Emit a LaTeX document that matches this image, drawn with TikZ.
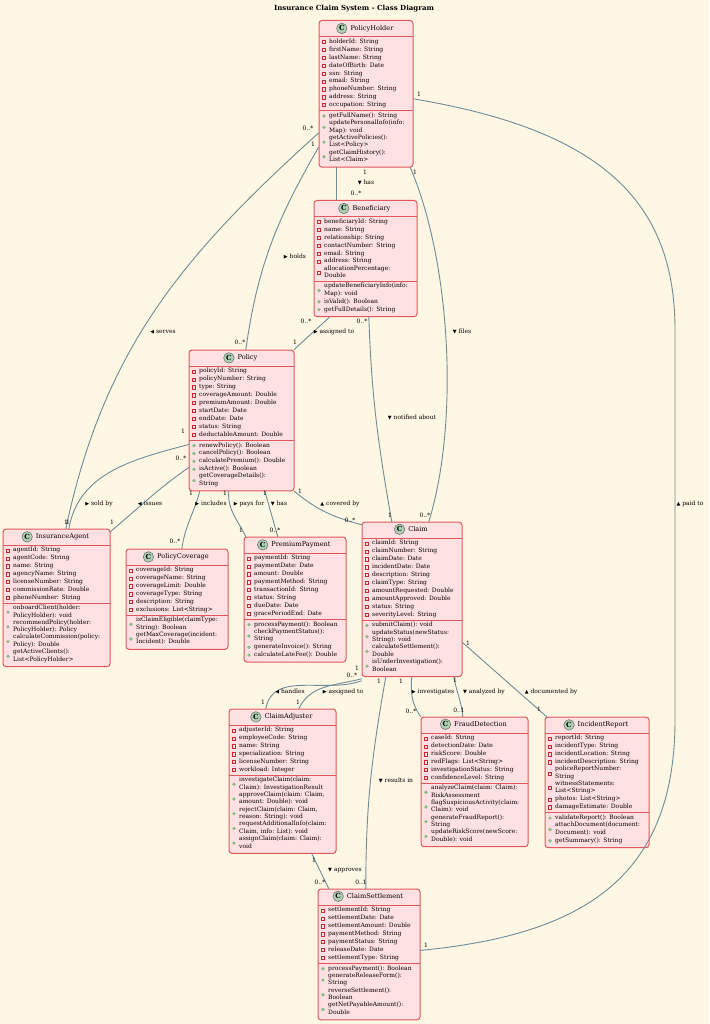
\documentclass[tikz,border=0pt]{standalone}
\usepackage{fontspec}
\setmainfont{DejaVu Serif}
\newfontfamily\symf{DejaVu Sans}
\usetikzlibrary{calc,fit,backgrounds,positioning}
\definecolor{bg}{HTML}{FEF7E4}
\definecolor{boxfill}{HTML}{FFE1E3}
\definecolor{boxline}{HTML}{E0585A}
\definecolor{iconfill}{HTML}{ADD1B2}
\definecolor{privc}{HTML}{C82930}
\definecolor{pubc}{HTML}{84BE84}
\definecolor{conn}{HTML}{6E8C98}
\newcommand\R{{\symf\fontsize{5}{5}\selectfont\char"25B6}}
\newcommand\Lf{{\symf\fontsize{5}{5}\selectfont\char"25C0}}
\newcommand\D{{\symf\fontsize{5}{5}\selectfont\char"25BC}}
\newcommand\U{{\symf\fontsize{5}{5}\selectfont\char"25B2}}
\tikzset{
  member/.style={inner sep=0pt,align=left,font=\fontsize{6}{7.5}\selectfont,
    execute at begin node=\strut, execute at end node=\strut},
  privm/.style={draw=privc,line width=0.5pt,fill=none,minimum size=3.2pt,inner sep=0pt},
  pubm/.style={circle,fill=pubc,minimum size=3.6pt,inner sep=0pt},
  ctitle/.style={inner sep=0pt,font=\fontsize{6.6}{8}\selectfont},
  cicon/.style={circle,draw=black!60,fill=iconfill,line width=0.5pt,minimum size=10.5pt,inner sep=0pt,font=\fontsize{7}{7}\selectfont\bfseries},
  boxst/.style={draw=boxline,fill=boxfill,line width=1pt,rounded corners=3pt},
  sep/.style={draw=boxline,line width=0.8pt},
  conn/.style={draw=conn,line width=0.9pt},
  lab/.style={inner sep=0.5pt,font=\fontsize{6}{7}\selectfont},
  mult/.style={inner sep=0.5pt,font=\fontsize{6}{7}\selectfont},
}
% id, x,y, width, title, attrs, methods
\newcommand\umlclass[6]{%
  \path (#2) coordinate (#1tl) ++(#3,0) coordinate (#1tr);
  \node[ctitle,anchor=north] (#1tt) at ($(#1tl)!0.5!(#1tr)+(6,4.5)$) {#4};
  \node[cicon,left=3pt of #1tt] (#1ic) {C};
  \draw[sep] ($(#1tl)+(0,16)$) -- ($(#1tr)+(0,16)$);
  \coordinate (#1c) at ($(#1tl)+(0,17.5)$);
  \foreach \m in {#5}{%
    \node[member,anchor=north west] (#1m) at ($(#1c)+(10,0)$) {\m};
    \node[privm] at ($(#1m.west)+(-5,0)$) {};
    \coordinate (#1c) at (#1m.south west -| #1tl);}
  \coordinate (#1d) at ($(#1c)+(0,1.5)$);
  \draw[sep] (#1d) -- (#1d -| #1tr);
  \coordinate (#1c) at ($(#1c)+(0,3)$);
  \foreach \m in {#6}{%
    \node[member,anchor=north west] (#1m) at ($(#1c)+(10,0)$) {\m};
    \node[pubm] at ($(#1m.west)+(-5,0)$) {};
    \coordinate (#1c) at (#1m.south west -| #1tl);}
  \coordinate (#1br) at ($(#1c -| #1tr)+(0,3)$);
  \begin{pgfonlayer}{background}
    \draw[boxst] (#1tl) rectangle (#1br);
  \end{pgfonlayer}
  \node[fit=(#1tl)(#1br),inner sep=0pt] (#1) {};
}
\begin{document}
\begin{tikzpicture}[x=1pt,y=-1pt]
\begin{pgfonlayer}{background}
\fill[bg] (0,0) rectangle (709,1024);
\end{pgfonlayer}
\useasboundingbox (0,0) rectangle (709,1024);
\node[font=\fontsize{7}{8}\selectfont\bfseries] (title) at (354,8.5) {Insurance Claim System - Class Diagram};

\umlclass{PH}{319,20.5}{94}{PolicyHolder}
 {holderId: String,firstName: String,lastName: String,dateOfBirth: Date,ssn: String,email: String,phoneNumber: String,address: String,occupation: String}
 {getFullName(): String,updatePersonalInfo(info:\\Map): void,getActivePolicies():\\List<Policy>,getClaimHistory():\\List<Claim>}
\umlclass{Ben}{314,200.5}{103}{Beneficiary}
 {beneficiaryId: String,name: String,relationship: String,contactNumber: String,email: String,address: String,allocationPercentage:\\Double}
 {updateBeneficiaryInfo(info:\\Map): void,isValid(): Boolean,getFullDetails(): String}
\umlclass{Pol}{189,350}{105}{Policy}
 {policyId: String,policyNumber: String,type: String,coverageAmount: Double,premiumAmount: Double,startDate: Date,endDate: Date,status: String,deductableAmount: Double}
 {renewPolicy(): Boolean,cancelPolicy(): Boolean,calculatePremium(): Double,isActive(): Boolean,getCoverageDetails():\\String}
\umlclass{IA}{3,529}{107}{InsuranceAgent}
 {agentId: String,agentCode: String,name: String,agencyName: String,licenseNumber: String,commissionRate: Double,phoneNumber: String}
 {onboardClient(holder:\\PolicyHolder): void,recommendPolicy(holder:\\PolicyHolder): Policy,calculateCommission(policy:\\Policy): Double,getActiveClients():\\List<PolicyHolder>}
\umlclass{PC}{126,549}{102}{PolicyCoverage}
 {coverageId: String,coverageName: String,coverageLimit: Double,coverageType: String,description: String,exclusions: List<String>}
 {isClaimEligible(claimType:\\String): Boolean,getMaxCoverage(incident:\\Incident): Double}
\umlclass{PP}{244,537}{102}{PremiumPayment}
 {paymentId: String,paymentDate: Date,amount: Double,paymentMethod: String,transactionId: String,status: String,dueDate: Date,gracePeriodEnd: Date}
 {processPayment(): Boolean,checkPaymentStatus():\\String,generateInvoice(): String,calculateLateFee(): Double}
\umlclass{Claim}{362,522}{100}{Claim}
 {claimId: String,claimNumber: String,claimDate: Date,incidentDate: Date,description: String,claimType: String,amountRequested: Double,amountApproved: Double,status: String,severityLevel: String}
 {submitClaim(): void,updateStatus(newStatus:\\String): void,calculateSettlement():\\Double,isUnderInvestigation():\\Boolean}
\umlclass{CA}{229,709}{107}{ClaimAdjuster}
 {adjusterId: String,employeeCode: String,name: String,specialization: String,licenseNumber: String,workload: Integer}
 {investigateClaim(claim:\\Claim): InvestigationResult,{approveClaim(claim: Claim,\\amount: Double): void},{rejectClaim(claim: Claim,\\reason: String): void},{requestAdditionalInfo(claim:\\Claim, info: List): void},assignClaim(claim: Claim):\\void}
\umlclass{FD}{421,717}{107}{FraudDetection}
 {caseId: String,detectionDate: Date,riskScore: Double,redFlags: List<String>,investigationStatus: String,confidenceLevel: String}
 {analyzeClaim(claim: Claim):\\RiskAssessment,flagSuspiciousActivity(claim:\\Claim): void,generateFraudReport():\\String,updateRiskScore(newScore:\\Double): void}
\umlclass{IR}{545,717}{104}{IncidentReport}
 {reportId: String,incidentType: String,incidentLocation: String,incidentDescription: String,policeReportNumber:\\String,witnessStatements:\\List<String>,photos: List<String>,damageEstimate: Double}
 {validateReport(): Boolean,attachDocument(document:\\Document): void,getSummary(): String}
\umlclass{CS}{318,889}{102}{ClaimSettlement}
 {settlementId: String,settlementDate: Date,settlementAmount: Double,paymentMethod: String,paymentStatus: String,releaseDate: Date,settlementType: String}
 {processPayment(): Boolean,generateReleaseForm():\\String,reverseSettlement():\\Boolean,getNetPayableAmount():\\Double}

% connectors
\draw[conn] ([xshift=18pt]PH.south west) -- ([xshift=23pt]Ben.north west);
\draw[conn] ([yshift=-53pt]PH.west) to[out=240,in=82] ([xshift=57pt]Pol.north west);
\draw[conn] ([yshift=-39pt]PH.west) to[out=222,in=78] ([xshift=63pt]IA.north west);
\draw[conn] ([yshift=-5pt]PH.east) .. controls (600,130) and (675,200) .. (675,330) -- (675,720) .. controls (675,880) and (580,935) .. ([yshift=4pt]CS.east);
\draw[conn] ([xshift=-3pt]PH.south east) .. controls (450,260) and (460,420) .. ([xshift=67pt]Claim.north west);
\draw[conn] ([xshift=16pt]Ben.south west) -- ([xshift=105pt]Pol.north west);
\draw[conn] ([xshift=55pt]Ben.south west) to[out=-88,in=100] ([xshift=30pt]Claim.north west);
\draw[conn] ([yshift=-24pt]Pol.west) to[out=195,in=80] ([xshift=66pt]IA.north west);
\draw[conn] ([yshift=-47pt]Pol.west) to[out=215,in=40] ([yshift=-3pt]IA.north east);
\draw[conn] ([xshift=11pt]Pol.south west) to[out=-105,in=82] ([xshift=56pt]PC.north west);
\draw[conn] ([xshift=40pt]Pol.south west) to[out=-95,in=115] ([xshift=2pt]PP.north west);
\draw[conn] ([xshift=76pt]Pol.south west) -- ([xshift=34pt]PP.north west);
\draw[conn] (Pol.south east) to[out=-40,in=165] ([yshift=-3pt]Claim.north west);
\draw[conn] ([yshift=-4pt]Claim.south west) to[out=200,in=80] ([xshift=37pt]CA.north west);
\draw[conn] ([yshift=-2pt]Claim.south west) to[out=195,in=65] ([xshift=70pt]CA.north west);
\draw[conn] ([xshift=24pt]Claim.south west) to[out=-100,in=90] ([xshift=48pt]CS.north west);
\draw[conn] ([xshift=50pt]Claim.south west) to[out=-95,in=125] (FD.north west);
\draw[conn] ([xshift=92pt]Claim.south west) to[out=-80,in=95] ([xshift=42pt]FD.north west);
\draw[conn] ([yshift=-43pt]Claim.east) -- ([xshift=2pt]IR.north west);
\draw[conn] ([xshift=83pt]CA.south west) -- ([xshift=11pt]CS.north west);

% labels
\node[lab] (l1) at (366,183) {\D{} has};
\node[lab] (l2) at (295,257) {\R{} holds};
\node[lab] (l3) at (163,332) {\Lf{} serves};
\node[lab] (l4) at (690,504) {\U{} paid to};
\node[lab] (l5) at (462,332) {\D{} files};
\node[lab] (l6) at (334,332) {\R{} assigned to};
\node[lab] (l7) at (412,418) {\D{} notified about};
\node[lab] (l8) at (99,504) {\R{} sold by};
\node[lab] (l9) at (150,504) {\Lf{} issues};
\node[lab] (l10) at (211,504) {\R{} includes};
\node[lab] (l11) at (249,504) {\R{} pays for};
\node[lab] (l12) at (279,504) {\D{} has};
\node[lab] (l13) at (340,504) {\U{} covered by};
\node[lab] (l14) at (290,692) {\Lf{} handles};
\node[lab] (l15) at (343,692) {\R{} assigned to};
\node[lab] (l16) at (396,781) {\D{} results in};
\node[lab] (l17) at (433,692) {\R{} investigates};
\node[lab] (l18) at (484,692) {\D{} analyzed by};
\node[lab] (l19) at (551,692) {\U{} documented by};
\node[lab] (l20) at (345,871) {\D{} approves};

% multiplicities
\node[mult] at (365,172) {1};
\node[mult] at (356,193) {0..*};
\node[mult] at (313,144) {1};
\node[mult] at (308,128) {0..*};
\node[mult] at (240,342) {0..*};
\node[mult] at (419,94) {1};
\node[mult] at (426,945) {1};
\node[mult] at (415,172) {1};
\node[mult] at (425,515) {0..*};
\node[mult] at (306,321) {0..*};
\node[mult] at (295,342) {1};
\node[mult] at (362,321) {0..*};
\node[mult] at (390,515) {1};
\node[mult] at (183,431) {1};
\node[mult] at (181,458) {0..*};
\node[mult] at (66,522) {1};
\node[mult] at (68,522) {1};
\node[mult] at (112,522) {1};
\node[mult] at (191,493) {1};
\node[mult] at (175,541) {0..*};
\node[mult] at (225,493) {1};
\node[mult] at (241,530) {1};
\node[mult] at (265,493) {1};
\node[mult] at (275,530) {0..*};
\node[mult] at (300,491) {1};
\node[mult] at (350,520) {0..*};
\node[mult] at (357,668) {1};
\node[mult] at (352,675) {0..*};
\node[mult] at (263,702) {1};
\node[mult] at (298,702) {1};
\node[mult] at (379,681) {1};
\node[mult] at (361,882) {0..1};
\node[mult] at (401,681) {1};
\node[mult] at (411,711) {0..*};
\node[mult] at (455,680) {1};
\node[mult] at (459,710) {0..1};
\node[mult] at (468,643) {1};
\node[mult] at (539,709) {1};
\node[mult] at (314,860) {1};
\node[mult] at (320,882) {0..*};
\end{tikzpicture}
\end{document}
